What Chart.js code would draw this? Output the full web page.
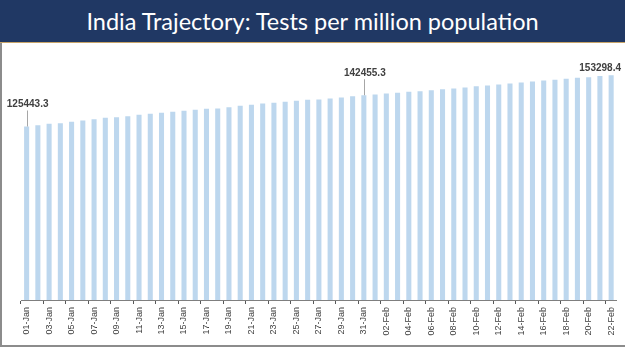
<!DOCTYPE html>
<html>
<head>
<meta charset="utf-8">
<script src="https://cdn.jsdelivr.net/npm/chart.js@4/dist/chart.umd.min.js"></script>
<style>
  html, body { margin: 0; padding: 0; background: #ffffff; }
  .slide { position: relative; width: 625px; height: 351px; overflow: hidden; background: #fff; }
  .banner {
    position: absolute; left: 0; top: 0; width: 625px; height: 42px;
    background: #203864; color: #ffffff;
    font-family: Lato, "Open Sans", sans-serif; font-size: 23.5px;
    text-align: center; line-height: 42px;
    border-bottom: 1px solid #c8a468;
  }
  .frame {
    position: absolute; left: 0; top: 43px; width: 623px; height: 302px;
    border-left: 2px solid #8c8c8c; border-bottom: 2px solid #8c8c8c;
  }
  .grafico { position: absolute; left: 2px; top: 43px; width: 623px; height: 302px; }
</style>
</head>
<body>
<div class="slide">
  <div class="banner">India Trajectory: Tests per million population</div>
  <div class="frame"></div>
  <div class="grafico"><canvas id="graficoTestes" width="623" height="302"></canvas></div>
</div>
<script>
// dias: 01-Jan a 22-Feb
var dias = [
  "01-Jan", "02-Jan", "03-Jan", "04-Jan", "05-Jan", "06-Jan", "07-Jan", "08-Jan", "09-Jan", "10-Jan",
  "11-Jan", "12-Jan", "13-Jan", "14-Jan", "15-Jan", "16-Jan", "17-Jan", "18-Jan", "19-Jan", "20-Jan",
  "21-Jan", "22-Jan", "23-Jan", "24-Jan", "25-Jan", "26-Jan", "27-Jan", "28-Jan", "29-Jan", "30-Jan",
  "31-Jan", "01-Feb", "02-Feb", "03-Feb", "04-Feb", "05-Feb", "06-Feb", "07-Feb", "08-Feb", "09-Feb",
  "10-Feb", "11-Feb", "12-Feb", "13-Feb", "14-Feb", "15-Feb", "16-Feb", "17-Feb", "18-Feb", "19-Feb",
  "20-Feb", "21-Feb", "22-Feb"
];

// testes por milhao (estimados, exceto os rotulados)
var testesPorMilhao = [
  125443.3, 126150, 126910, 127240, 128000, 128710, 129420, 130180, 130510, 131060,
  131820, 132360, 132910, 133450, 134000, 134540, 135090, 135250, 135960, 136720,
  137270, 137980, 138360, 138900, 139450, 139990, 140160, 140700, 141250, 141960,
  142455.3, 142880, 143430, 143810, 144350, 144680, 145230, 145770, 146150, 146700,
  147400, 147790, 148330, 148880, 149420, 149970, 150510, 150900, 151440, 151980,
  152310, 152860, 153298.4
];

// quais barras levam rotulo
var indicesRotulo = [0, 30, 52];

var pluginRotulos = {
  id: 'rotulos',
  afterDatasetsDraw: function (chart) {
    var ctx = chart.ctx;
    var meta = chart.getDatasetMeta(0);
    ctx.save();
    ctx.font = "bold 10px 'Liberation Sans', Arial, sans-serif";
    ctx.fillStyle = "#404040";
    ctx.textAlign = "center";
    ctx.textBaseline = "middle";
    indicesRotulo.forEach(function (i) {
      var barra = meta.data[i];
      var texto = testesPorMilhao[i].toFixed(1);
      if (i === testesPorMilhao.length - 1) {
        ctx.fillText(texto, barra.x - 11, barra.y - 7);
      } else {
        ctx.fillText(texto, barra.x + 1, barra.y - 22);
        ctx.strokeStyle = "#a6a6a6";
        ctx.lineWidth = 1;
        ctx.beginPath();
        ctx.moveTo(Math.round(barra.x) + 0.5, barra.y - 16);
        ctx.lineTo(Math.round(barra.x) + 0.5, barra.y);
        ctx.stroke();
      }
    });
    ctx.restore();
  }
};

new Chart(document.getElementById("graficoTestes"), {
  type: 'bar',
  data: {
    labels: dias,
    datasets: [{
      label: "Tests per million",
      data: testesPorMilhao,
      backgroundColor: "#bdd7ee",
      barPercentage: 0.45,
      categoryPercentage: 1.0
    }]
  },
  options: {
    responsive: false,
    animation: false,
    layout: { padding: { left: 19, right: 5, top: 20, bottom: 0 } },
    plugins: {
      legend: { display: false },
      tooltip: { enabled: false },
      title: { display: false }
    },
    scales: {
      x: {
        afterFit: function (escala) { escala.height = 45; },
        border: { display: true, color: "#7f7f7f", width: 1 },
        grid: {
          offset: true,
          drawOnChartArea: false,
          drawTicks: true,
          tickLength: 4,
          color: function (c) { return c.index % 2 === 0 ? "#595959" : "rgba(0,0,0,0)"; }
        },
        ticks: {
          autoSkip: false,
          minRotation: 90,
          maxRotation: 90,
          padding: 3,
          color: "#404040",
          font: { family: "'Liberation Sans', Arial, sans-serif", size: 9 },
          callback: function (valor, indice) { return indice % 2 === 0 ? dias[indice] : ""; }
        }
      },
      y: {
        display: false,
        min: 31000,
        max: 160000
      }
    }
  },
  plugins: [pluginRotulos]
});
</script>
</body>
</html>
